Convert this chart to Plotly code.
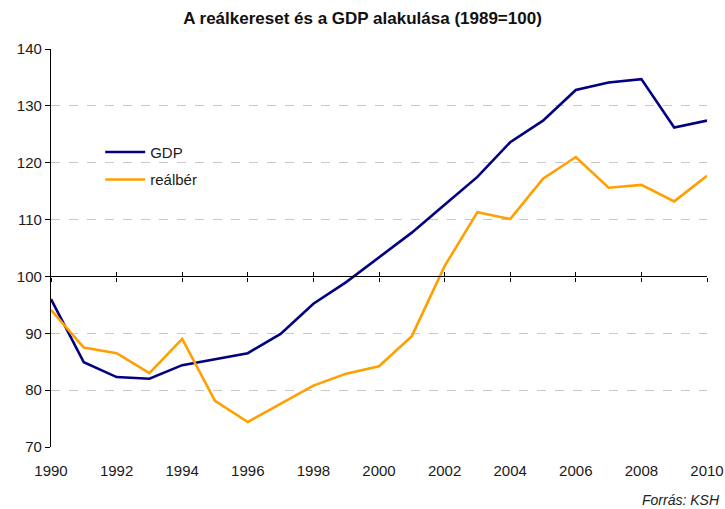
import plotly.graph_objects as go

years = list(range(1990, 2011))
gdp = [96.0, 84.9, 82.3, 82.0, 84.4, 85.5, 86.5, 89.9, 95.2, 99.0, 103.4, 107.7,
       112.6, 117.5, 123.6, 127.4, 132.8, 134.1, 134.7, 126.2, 127.4]
realber = [94.1, 87.5, 86.5, 83.0, 89.0, 78.1, 74.4, 77.6, 80.8, 82.9, 84.2, 89.5,
           101.8, 111.3, 110.1, 117.2, 121.0, 115.6, 116.1, 113.2, 117.7]
x_ticks = list(range(1990, 2011, 2))
y_ticks = list(range(70, 141, 10))
title = "A reálkereset és a GDP alakulása (1989=100)"
source = "Forrás: KSH"

FONT = "Liberation Sans, Arial, sans-serif"
Y_MIN, Y_MAX, X_CROSS = 70, 140, 100

fig = go.Figure()
fig.add_trace(go.Scatter(x=years, y=gdp, mode="lines", name="GDP",
                         line=dict(color="#000080", width=2.6), legendgroup="a"))
fig.add_trace(go.Scatter(x=years, y=realber, mode="lines", name="reálbér",
                         line=dict(color="#FF9F00", width=2.6), legendgroup="b"))
# invisible traces anchoring the crossing x axes
fig.add_trace(go.Scatter(x=years, y=gdp, xaxis="x2", mode="lines", showlegend=False,
                         line=dict(width=0), hoverinfo="skip", opacity=0))
fig.add_trace(go.Scatter(x=years, y=gdp, xaxis="x3", mode="lines", showlegend=False,
                         line=dict(width=0), hoverinfo="skip", opacity=0))

cross_pos = (X_CROSS - Y_MIN) / (Y_MAX - Y_MIN)

fig.update_layout(
    width=725, height=509,
    margin=dict(l=51, r=18, t=49, b=62, autoexpand=False),
    paper_bgcolor="white", plot_bgcolor="white",
    font=dict(family=FONT, size=15, color="#1a1a1a"),
    title=dict(text="<b>" + title + "</b>", x=0.5, xanchor="center",
               y=0.964, yanchor="middle", font=dict(size=17, color="#111")),
    showlegend=True,
    legend=dict(x=0.075, y=0.782, xanchor="left", yanchor="top",
                bgcolor="rgba(0,0,0,0)", font=dict(size=15, color="#1a1a1a"),
                traceorder="grouped", tracegroupgap=5, itemwidth=40),
    xaxis=dict(range=[1990, 2010], tickvals=x_ticks, ticks="", showline=False,
               showgrid=False, zeroline=False, ticklabelstandoff=13,
               tickfont=dict(size=15), automargin=False),
    xaxis2=dict(range=[1990, 2010], overlaying="x", anchor="free", position=cross_pos,
                tickvals=x_ticks + [2010], showticklabels=False, showline=True,
                linecolor="black", linewidth=1.3, ticks="outside", ticklen=4,
                tickcolor="black", tickwidth=1.3, showgrid=False, zeroline=False,
                automargin=False),
    xaxis3=dict(range=[1990, 2010], overlaying="x", anchor="free", position=cross_pos,
                tickvals=x_ticks + [2010], showticklabels=False, showline=False,
                ticks="inside", ticklen=4, tickcolor="black", tickwidth=1.3,
                showgrid=False, zeroline=False, automargin=False),
    yaxis=dict(range=[Y_MIN, Y_MAX], tickvals=y_ticks, showline=True,
               linecolor="black", linewidth=1.3, ticks="outside", ticklen=5,
               tickcolor="black", tickwidth=1.3, showgrid=True,
               gridcolor="#c8c8c8", griddash="dash", gridwidth=1, zeroline=False,
               tickfont=dict(size=15), automargin=False),
    annotations=[dict(text="<i>" + source + "</i>", xref="paper", yref="paper",
                      x=1.023, y=-0.134, xanchor="right", yanchor="middle",
                      showarrow=False, font=dict(size=14, color="#222"))],
)

fig.write_html("out.html",
               config={"displayModeBar": False},
               post_script="document.body.style.margin='0';"
                           "document.body.style.overflow='hidden';")
